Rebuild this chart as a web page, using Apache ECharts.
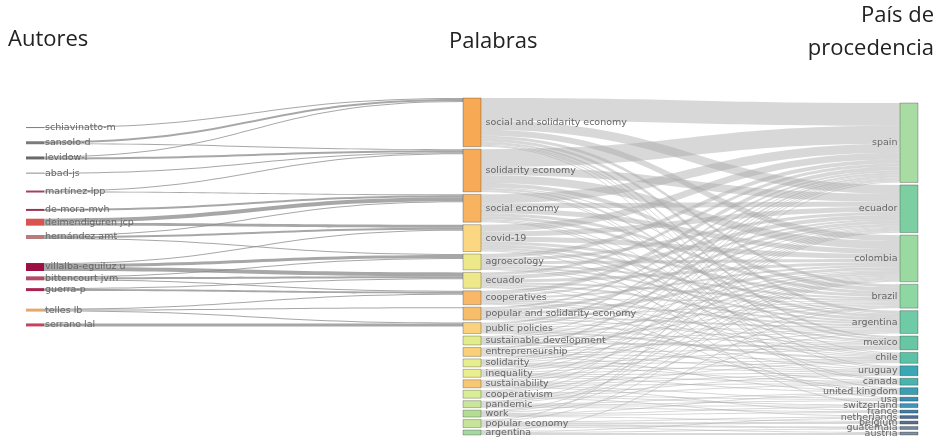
<!DOCTYPE html>
<html>
<head>
<meta charset="utf-8">
<script src="https://cdn.jsdelivr.net/npm/echarts@6/dist/echarts.min.js"></script>
<style>
html, body { margin: 0; padding: 0; background: #fff; }
#chart { width: 936px; height: 440px; }
</style>
</head>
<body>
<div id="chart"></div>
<script>
// three-field plot: autores -> palabras -> país
const authors = ['schiavinatto-m', 'sansolo-d', 'levidow-l', 'abad-js', 'martínez-lpp', 'de-mora-mvh',
  'deimendiguren jcp', 'hernández amt', 'villalba-eguiluz u', 'bittencourt jvm', 'guerra-p', 'telles lb', 'serrano lal'];

const keywords = ['social and solidarity economy', 'solidarity economy', 'social economy', 'covid-19',
  'agroecology', 'ecuador', 'cooperatives', 'popular and solidarity economy', 'public policies',
  'sustainable development', 'entrepreneurship', 'solidarity', 'inequality', 'sustainability',
  'cooperativism', 'pandemic', 'work', 'popular economy', 'argentina'];

const countries = ['spain', 'ecuador', 'colombia', 'brazil', 'argentina', 'mexico', 'chile', 'uruguay',
  'canada', 'united kingdom', 'usa', 'switzerland', 'france', 'netherlands', 'belgium', 'guatemala', 'austria'];

// [author, keyword, value]
const authorLinks = [
  ['schiavinatto-m', 'social and solidarity economy', 1],
  ['sansolo-d', 'social and solidarity economy', 2], ['sansolo-d', 'solidarity economy', 1],
  ['levidow-l', 'social and solidarity economy', 1], ['levidow-l', 'solidarity economy', 2],
  ['abad-js', 'solidarity economy', 1],
  ['martínez-lpp', 'solidarity economy', 1], ['martínez-lpp', 'social economy', 1],
  ['de-mora-mvh', 'social economy', 2],
  ['deimendiguren jcp', 'social economy', 4], ['deimendiguren jcp', 'covid-19', 3],
  ['hernández amt', 'social economy', 1], ['hernández amt', 'covid-19', 2], ['hernández amt', 'agroecology', 1],
  ['villalba-eguiluz u', 'covid-19', 1], ['villalba-eguiluz u', 'agroecology', 3], ['villalba-eguiluz u', 'ecuador', 4],
  ['bittencourt jvm', 'agroecology', 1], ['bittencourt jvm', 'ecuador', 2], ['bittencourt jvm', 'cooperatives', 1],
  ['guerra-p', 'ecuador', 1], ['guerra-p', 'cooperatives', 2],
  ['telles lb', 'cooperatives', 1], ['telles lb', 'popular and solidarity economy', 1], ['telles lb', 'public policies', 1],
  ['serrano lal', 'public policies', 3]
];

// rows follow keywords, columns follow countries
const keywordCountry = [
  [23, 9, 6, 3, 3, 2, 1, 1, 0, 1, 0, 0, 0, 0, 0, 0, 0],
  [18, 8, 8, 4, 1, 2, 0, 1, 1, 0, 0, 0, 0, 0, 0, 0, 0],
  [9, 5, 5, 3, 3, 0, 1, 0, 1, 0, 1, 0, 0, 0, 0, 0, 0],
  [7, 5, 5, 3, 3, 2, 1, 0, 0, 0, 0, 1, 0, 0, 0, 0, 0],
  [4, 3, 3, 2, 2, 1, 0, 1, 0, 0, 0, 0, 0, 0, 0, 0, 0],
  [3, 4, 3, 2, 2, 0, 1, 0, 0, 1, 0, 0, 0, 0, 0, 0, 0],
  [4, 2, 2, 1, 2, 1, 1, 0, 0, 1, 0, 0, 0, 0, 0, 0, 0],
  [2, 3, 3, 1, 2, 1, 0, 1, 0, 0, 0, 0, 0, 0, 0, 0, 0],
  [2, 2, 1, 1, 1, 1, 2, 0, 1, 0, 0, 0, 0, 0, 0, 0, 0],
  [1, 1, 2, 1, 1, 2, 0, 1, 0, 0, 0, 0, 0, 0, 0, 0, 0],
  [2, 0, 2, 0, 1, 1, 1, 1, 0, 1, 0, 0, 0, 0, 0, 0, 0],
  [1, 1, 1, 1, 0, 1, 1, 1, 1, 0, 0, 0, 0, 0, 0, 0, 0],
  [1, 1, 1, 0, 1, 0, 1, 1, 1, 1, 0, 0, 0, 0, 0, 0, 0],
  [1, 1, 1, 0, 0, 0, 1, 1, 1, 0, 1, 0, 1, 0, 0, 0, 0],
  [1, 1, 1, 0, 0, 0, 0, 1, 1, 0, 1, 1, 0, 1, 0, 0, 0],
  [0, 1, 1, 1, 0, 0, 0, 0, 0, 1, 1, 1, 1, 0, 0, 0, 0],
  [0, 1, 1, 0, 1, 0, 0, 0, 0, 1, 0, 1, 1, 0, 1, 0, 0],
  [1, 0, 1, 0, 0, 0, 0, 0, 0, 0, 0, 0, 0, 1, 2, 2, 1],
  [0, 0, 0, 1, 0, 0, 0, 0, 0, 0, 0, 0, 0, 1, 0, 1, 2]
];

const authorColors = ['#7a7a7a', '#7a7a7a', '#6a6a6a', '#8a8a8a', '#a3425e', '#9c3352', '#d9534f',
  '#b97c7c', '#9c0f42', '#b24a68', '#a8244f', '#e6a86a', '#c2445e'];
const keywordColors = ['#f7a954', '#f7ab58', '#f7b35f', '#fad780', '#ede98b', '#efe88b', '#f8b868',
  '#f8bd6a', '#fad27e', '#e2ec8c', '#f9cf78', '#e6ee8e', '#e9ee8e', '#f8c773', '#d9ee95', '#c9e69a',
  '#b5dc93', '#c6e59a', '#a6d9a2'];
const countryColors = ['#a8dca2', '#7dcfa2', '#9ad9a0', '#8ed7a2', '#6ecba6', '#68c6a4', '#5cc2a6',
  '#3aa8b4', '#4ab4ac', '#3c9eb0', '#3a8eb4', '#4494b8', '#3c7fa8', '#4c6f98', '#5a7090', '#708898', '#8090a0'];

// ids keep the two "ecuador"/"argentina" nodes apart, the text is what gets shown
const nodes = [];
authors.forEach(function (a, i) {
  nodes.push({ id: 'a:' + a, name: 'a:' + a, text: a, depth: 0,
    itemStyle: { color: authorColors[i], borderWidth: 0 },
    label: { position: 'right', distance: 1 } });
});
keywords.forEach(function (k, i) {
  nodes.push({ id: 'k:' + k, name: 'k:' + k, text: k, depth: 1,
    itemStyle: { color: keywordColors[i] },
    label: { position: 'right', distance: 4 } });
});
countries.forEach(function (c, i) {
  nodes.push({ id: 'c:' + c, name: 'c:' + c, text: c, depth: 2,
    itemStyle: { color: countryColors[i] },
    label: { position: 'left', distance: 2 } });
});

const links = [];
authorLinks.forEach(function (l) {
  links.push({ source: 'a:' + l[0], target: 'k:' + l[1], value: l[2] });
});
keywordCountry.forEach(function (row, i) {
  row.forEach(function (v, j) {
    if (v > 0) links.push({ source: 'k:' + keywords[i], target: 'c:' + countries[j], value: v });
  });
});

const chart = echarts.init(document.getElementById('chart'));
const headStyle = { fontFamily: 'Open Sans', fontSize: 22, fontWeight: 'normal', color: '#222' };
chart.setOption({
  animation: false,
  title: [
    { text: 'Autores', left: 8, top: 29, padding: 0, textStyle: headStyle },
    { text: 'Palabras', left: 449, top: 31, padding: 0, textStyle: headStyle },
    { text: 'País de', right: 2, top: 5, padding: 0, textStyle: headStyle },
    { text: 'procedencia', right: 2, top: 38, padding: 0, textStyle: headStyle }
  ],
  series: [{
    type: 'sankey',
    left: 26,
    right: 18,
    top: 98,
    bottom: 5,
    nodeWidth: 18,
    nodeGap: 2.5,
    layoutIterations: 300,
    draggable: false,
    emphasis: { disabled: true },
    itemStyle: { borderColor: 'rgba(0,0,0,0.25)', borderWidth: 1 },
    label: {
      fontFamily: 'DejaVu Sans', fontSize: 9.5, color: '#666',
      formatter: function (p) { return p.data.text; }
    },
    lineStyle: { color: '#a8a8a8', opacity: 0.45, curveness: 0.5 },
    levels: [
      { depth: 0, lineStyle: { color: '#8a8a8a', opacity: 0.75 } },
      { depth: 1, lineStyle: { color: '#a8a8a8', opacity: 0.45 } }
    ],
    data: nodes,
    links: links
  }]
});
</script>
</body>
</html>
